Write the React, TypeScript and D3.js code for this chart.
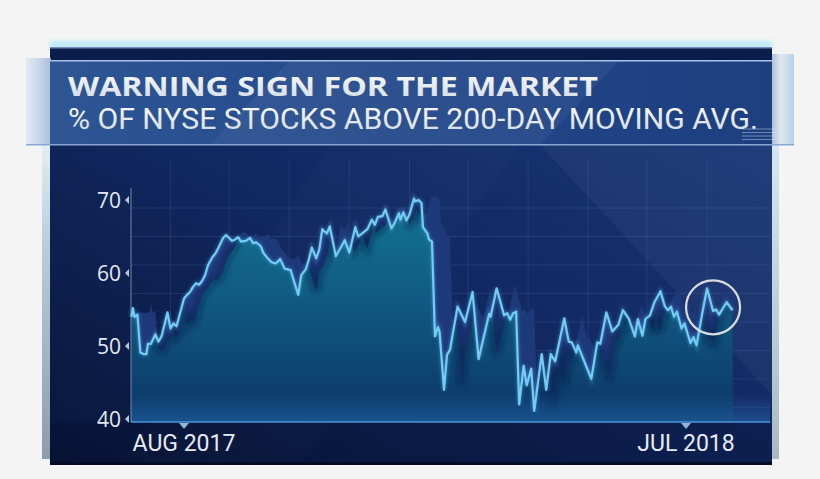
import React from "react";
import * as d3 from "d3";

const TITLE = "WARNING SIGN FOR THE MARKET";
const SUBTITLE = "% OF NYSE STOCKS ABOVE 200-DAY MOVING AVG.";

const dates = [
  "2017-06-27","2017-06-28","2017-06-29","2017-07-01","2017-07-03","2017-07-05","2017-07-07","2017-07-08",
  "2017-07-10","2017-07-13","2017-07-15","2017-07-17","2017-07-19","2017-07-21","2017-07-23","2017-07-25",
  "2017-07-27","2017-08-01","2017-08-03","2017-08-05","2017-08-07","2017-08-09","2017-08-11","2017-08-13",
  "2017-08-15","2017-08-17","2017-08-20","2017-08-22","2017-08-24","2017-08-27","2017-08-29","2017-09-02",
  "2017-09-04","2017-09-06","2017-09-08","2017-09-11","2017-09-14","2017-09-16","2017-09-18","2017-09-21",
  "2017-09-23","2017-09-25","2017-09-28","2017-10-01","2017-10-04","2017-10-07","2017-10-11","2017-10-13",
  "2017-10-16","2017-10-18","2017-10-21","2017-10-23","2017-10-25","2017-10-28","2017-10-30","2017-11-01",
  "2017-11-04","2017-11-06","2017-11-10","2017-11-13","2017-11-16","2017-11-19","2017-11-23","2017-11-25",
  "2017-11-28","2017-12-01","2017-12-04","2017-12-06","2017-12-08","2017-12-11","2017-12-13","2017-12-17",
  "2017-12-19","2017-12-22","2017-12-23","2017-12-25","2017-12-27","2017-12-29","2018-01-01","2018-01-02",
  "2018-01-04","2018-01-06","2018-01-07","2018-01-10","2018-01-11","2018-01-13","2018-01-15","2018-01-17",
  "2018-01-18","2018-01-21","2018-01-23","2018-01-25","2018-01-30","2018-02-04","2018-02-09","2018-02-13",
  "2018-02-20","2018-02-21","2018-02-25","2018-03-02","2018-03-04","2018-03-06","2018-03-08","2018-03-10",
  "2018-03-12","2018-03-15","2018-03-17","2018-03-20","2018-03-22","2018-03-27","2018-03-30","2018-04-02",
  "2018-04-05","2018-04-11","2018-04-14","2018-04-16","2018-04-19","2018-04-20","2018-04-29","2018-05-03",
  "2018-05-05","2018-05-09","2018-05-13","2018-05-17","2018-05-20","2018-05-24","2018-05-28","2018-05-30",
  "2018-06-02","2018-06-04","2018-06-07","2018-06-10","2018-06-14","2018-06-17","2018-06-19","2018-06-21",
  "2018-06-23","2018-06-25","2018-06-28","2018-06-30","2018-07-04","2018-07-06","2018-07-08","2018-07-12",
  "2018-07-15","2018-07-19","2018-07-21","2018-07-23","2018-07-28","2018-08-01",
];

const values = [
  54.0, 55.2, 54.0, 54.3, 49.1, 48.9, 48.9, 50.3,
  50.3, 51.6, 50.6, 51.3, 52.9, 54.6, 52.4, 53.1,
  52.7, 56.5, 57.0, 57.4, 58.1, 58.6, 58.4, 58.9,
  59.7, 61.1, 62.2, 62.7, 63.5, 64.8, 65.2, 64.4,
  64.6, 64.9, 64.3, 64.4, 64.8, 64.1, 64.2, 63.7,
  62.7, 62.2, 61.5, 61.3, 61.9, 60.6, 60.4, 59.0,
  57.0, 59.7, 60.5, 61.8, 63.5, 62.0, 63.2, 66.0,
  65.4, 66.4, 62.3, 63.4, 64.5, 62.8, 66.3, 65.0,
  65.5, 66.0, 67.3, 66.6, 67.7, 67.8, 68.7, 66.1,
  66.8, 68.2, 67.3, 68.3, 67.2, 68.0, 70.2, 69.8,
  70.0, 69.6, 66.3, 65.4, 64.6, 64.3, 51.3, 52.6,
  52.0, 44.0, 48.8, 49.5, 55.4, 53.3, 57.4, 48.2,
  54.4, 54.0, 57.9, 54.2, 54.5, 53.6, 54.5, 54.7,
  42.0, 47.3, 44.6, 46.9, 41.1, 48.9, 44.0, 48.9,
  47.9, 53.8, 50.6, 50.5, 49.1, 50.1, 45.5, 50.5,
  50.3, 54.6, 52.0, 52.9, 54.9, 53.7, 51.3, 53.7,
  51.4, 53.7, 54.2, 56.0, 57.5, 55.4, 54.9, 55.4,
  54.0, 54.7, 52.4, 53.1, 50.4, 51.2, 50.1, 54.7,
  57.9, 54.8, 55.0, 54.3, 56.0, 54.9,
];

const yTicks = [40, 50, 60, 70];
const xTickDates = ["2017-08-01", "2018-07-01"];
const xTickLabels = ["AUG 2017", "JUL 2018"];
const gridValues = [41.6, 45.5, 49.4, 53.3, 57.2, 61.1, 65.0, 68.9];
const gridDates = [
  "2017-07-23","2017-08-31","2017-10-10","2017-11-19","2017-12-29",
  "2018-02-06","2018-03-18","2018-04-27","2018-06-05","2018-07-15",
];
const highlightDate = "2018-07-19";
const highlightValue = 55.3;

const W = 820;
const H = 479;
const PANEL = { x: 50, y: 47, w: 722, h: 418 };
const PLOT = { left: 131, right: 772, top: 180, bottom: 422 };
const DX = 18;
const DY = -4;

export default function App() {
  const parse = d3.timeParse("%Y-%m-%d");
  const x = d3
    .scaleTime()
    .domain([parse(xTickDates[0])!, parse(xTickDates[1])!])
    .range([184, 686]);
  const y = d3.scaleLinear().domain([40, 70]).range([419, 200]);

  const pts: [number, number][] = dates.map((d, i) => [x(parse(d)!), y(values[i])]);
  const shifted: [number, number][] = [
    [pts[0][0], pts[0][1] + DY],
    ...pts.map(([px, py]) => [px + DX, py + DY] as [number, number]),
  ];
  const lastX = pts[pts.length - 1][0];

  const line = d3.line<[number, number]>().x((d) => d[0]).y((d) => d[1]);
  const area = d3
    .area<[number, number]>()
    .x((d) => d[0])
    .y0(PLOT.bottom)
    .y1((d) => d[1]);

  const lineD = line(pts) || "";
  const areaD = area(pts) || "";
  const areaShiftD = area(shifted) || "";
  const lineShiftD = line(shifted) || "";

  const hx = x(parse(highlightDate)!);
  const hy = y(highlightValue);

  const labelFont = "'Open Sans', 'DejaVu Sans', sans-serif";

  return (
    <svg
      width={W}
      height={H}
      viewBox={`0 0 ${W} ${H}`}
      style={{ position: "absolute", left: 0, top: 0, display: "block" }}
    >
      <defs>
        <linearGradient id="panelBg" x1="0" y1="1" x2="1" y2="0">
          <stop offset="0" stopColor="#081639" />
          <stop offset="0.45" stopColor="#11275f" />
          <stop offset="1" stopColor="#1b3a7c" />
        </linearGradient>
        <linearGradient id="banner" x1="0" y1="0" x2="1" y2="0">
          <stop offset="0" stopColor="#2e5694" />
          <stop offset="0.5" stopColor="#22478a" />
          <stop offset="1" stopColor="#1d3f80" />
        </linearGradient>
        <linearGradient id="glassL" x1="0" y1="0" x2="1" y2="0">
          <stop offset="0" stopColor="#dfe8f5" />
          <stop offset="0.5" stopColor="#c2d2ea" />
          <stop offset="1" stopColor="#9fb5d6" />
        </linearGradient>
        <linearGradient id="glassR" x1="0" y1="0" x2="1" y2="0">
          <stop offset="0" stopColor="#9fb8da" />
          <stop offset="0.4" stopColor="#dfe6ee" />
          <stop offset="1" stopColor="#a9cbea" />
        </linearGradient>
        <linearGradient id="sideL" x1="0" y1="0" x2="0" y2="1">
          <stop offset="0" stopColor="#e2eef4" />
          <stop offset="0.3" stopColor="#b9d0dc" />
          <stop offset="1" stopColor="#8d9ca7" />
        </linearGradient>
        <linearGradient id="sideR" x1="0" y1="0" x2="0" y2="1">
          <stop offset="0" stopColor="#d3e8f3" />
          <stop offset="1" stopColor="#a9bac4" />
        </linearGradient>
        <linearGradient id="titleFill" x1="0" y1="0" x2="0" y2="1">
          <stop offset="0" stopColor="#ffffff" />
          <stop offset="1" stopColor="#cfd8e3" />
        </linearGradient>
        <linearGradient id="teal" gradientUnits="userSpaceOnUse" x1="0" y1="200" x2="0" y2="422">
          <stop offset="0" stopColor="#137492" />
          <stop offset="0.5" stopColor="#10577f" />
          <stop offset="1" stopColor="#0c3566" />
        </linearGradient>
        <linearGradient id="baseGlow" x1="0" y1="0" x2="0" y2="1">
          <stop offset="0" stopColor="#2a78c0" stopOpacity="0" />
          <stop offset="1" stopColor="#2a78c0" stopOpacity="0.45" />
        </linearGradient>
        <filter id="blur3" x="-10%" y="-10%" width="120%" height="120%">
          <feGaussianBlur stdDeviation="3" />
        </filter>
        <filter id="blur2" x="-10%" y="-50%" width="120%" height="200%">
          <feGaussianBlur stdDeviation="2" />
        </filter>
        <filter id="blur1" x="-10%" y="-50%" width="120%" height="200%">
          <feGaussianBlur stdDeviation="1.5" />
        </filter>
        <clipPath id="clipUnder">
          <path d={areaD} />
        </clipPath>
        <clipPath id="clipSeries">
          <rect x={PLOT.left} y={0} width={lastX - PLOT.left} height={PLOT.bottom} />
        </clipPath>
        <clipPath id="clipPanel">
          <rect x={PANEL.x} y={PANEL.y} width={PANEL.w} height={PANEL.h} />
        </clipPath>
      </defs>

      <rect x={0} y={0} width={W} height={H} fill="#f4f4f4" />

      {/* glow & frame */}
      <rect x={PANEL.x} y={PANEL.y - 6} width={PANEL.w} height={8} fill="#bfe8f7" filter="url(#blur2)" />
      <rect x={42} y={145} width={9} height={314} fill="url(#sideL)" />
      <rect x={771} y={145} width={8} height={314} fill="url(#sideR)" />

      {/* panel */}
      <rect x={PANEL.x} y={PANEL.y} width={PANEL.w} height={PANEL.h} fill="url(#panelBg)" />
      <g clipPath="url(#clipPanel)">
        <polygon points="540,145 772,145 772,395" fill="#ffffff" opacity={0.04} />
        <polygon points="330,145 520,145 300,465 120,465" fill="#ffffff" opacity={0.015} />
        <rect x={PANEL.x} y={PLOT.bottom + 1} width={PANEL.w} height={PANEL.y + PANEL.h - PLOT.bottom - 1} fill="#050f2e" opacity={0.35} />
      </g>
      <rect x={PANEL.x} y={PANEL.y + PANEL.h - 3} width={PANEL.w} height={3} fill="#050c26" />

      {/* grid */}
      <g>
        {gridValues.map((v) => (
          <line key={"h" + v} x1={PLOT.left} x2={PLOT.right - 2} y1={y(v)} y2={y(v)} stroke="#5d7fc4" strokeOpacity={0.22} strokeWidth={1} />
        ))}
        {gridDates.map((d) => (
          <line key={"v" + d} x1={x(parse(d)!)} x2={x(parse(d)!)} y1={PLOT.top - 20} y2={PLOT.bottom} stroke="#5d7fc4" strokeOpacity={0.2} strokeWidth={1} />
        ))}
      </g>

      <g clipPath="url(#clipSeries)">
        {/* extruded band */}
        <path d={areaD} fill="#1d397a" />
        <path d={areaShiftD} fill="#1d397a" />
        {/* front face */}
        <g clipPath="url(#clipUnder)">
          <path d={areaShiftD} fill="url(#teal)" />
          <path d={lineShiftD} fill="none" stroke="#06183f" strokeOpacity={0.5} strokeWidth={6} filter="url(#blur3)" />
        </g>
      </g>

      {/* baseline glow */}
      <rect x={PLOT.left} y={PLOT.bottom - 28} width={PLOT.right - PLOT.left - 2} height={28} fill="url(#baseGlow)" />
      <line x1={PLOT.left} x2={PLOT.right - 2} y1={PLOT.bottom} y2={PLOT.bottom} stroke="#4b93d6" strokeWidth={1.5} />
      <line x1={PLOT.left} x2={PLOT.left} y1={PLOT.top + 8} y2={PLOT.bottom} stroke="#9fb2cf" strokeOpacity={0.7} strokeWidth={1} />

      {/* series line */}
      <path d={lineD} fill="none" stroke="#5cc4f5" strokeOpacity={0.35} strokeWidth={4} filter="url(#blur1)" />
      <path d={lineD} fill="none" stroke="#74ccf5" strokeWidth={2.2} strokeLinejoin="round" />

      {/* highlight circle */}
      <circle cx={hx} cy={hy} r={27} fill="none" stroke="#d9dcdf" strokeWidth={2.2} />

      {/* y axis */}
      {yTicks.map((t) => (
        <g key={"yt" + t}>
          <path d={`M${PLOT.left - 2},${y(t) - 4} L${PLOT.left - 6},${y(t)} L${PLOT.left - 2},${y(t) + 4} Z`} fill="#b9c6d8" />
          <text x={121} y={y(t)} dy="0.36em" textAnchor="end" fontFamily={labelFont} fontSize={21} fill="#e4e9f0">
            {t}
          </text>
        </g>
      ))}

      {/* x axis */}
      {xTickDates.map((d, i) => {
        const tx = x(parse(d)!);
        return (
          <g key={"xt" + d}>
            <path d={`M${tx - 5},${PLOT.bottom + 1} L${tx + 5},${PLOT.bottom + 1} L${tx},${PLOT.bottom + 7} Z`} fill="#8fb4d8" />
            <text x={tx} y={451} textAnchor="middle" fontFamily="Roboto, 'Open Sans', sans-serif" fontSize={23} fill="#e6ebf2">
              {xTickLabels[i]}
            </text>
          </g>
        );
      })}

      {/* banner */}
      <rect x={PANEL.x} y={PANEL.y} width={PANEL.w} height={14} fill="#0b1d4d" />
      <rect x={PANEL.x} y={PANEL.y} width={PANEL.w} height={1.5} fill="#6f8fc0" />
      <rect x={26} y={58} width={25} height={87} fill="url(#glassL)" opacity={0.85} />
      <rect x={772} y={54} width={22} height={91} fill="url(#glassR)" opacity={0.85} />
      <rect x={PANEL.x} y={60} width={PANEL.w} height={85} fill="url(#banner)" />
      <polygon points="290,60 620,60 540,145 210,145" fill="#ffffff" opacity={0.05} />
      <rect x={PANEL.x} y={60} width={PANEL.w} height={1.5} fill="#a9c3e3" />
      <rect x={26} y={144} width={768} height={1.5} fill="#87a7d2" />
      <g opacity={0.45} stroke="#d8e2ee" strokeWidth={1.2}>
        {[0, 1, 2, 3].map((k) => (
          <line key={"ic" + k} x1={742} x2={783} y1={129 + k * 3.5} y2={129 + k * 3.5} />
        ))}
      </g>

      <text
        x={68}
        y={96}
        fontFamily="'Open Sans', 'DejaVu Sans', sans-serif"
        fontWeight={700}
        fontSize={27.5}
        fill="url(#titleFill)"
        textLength={530}
        lengthAdjust="spacingAndGlyphs"
      >
        {TITLE}
      </text>
      <text
        x={68}
        y={128.5}
        fontFamily="Roboto, 'Open Sans', sans-serif"
        fontSize={29.5}
        fill="url(#titleFill)"
        textLength={690}
        lengthAdjust="spacingAndGlyphs"
      >
        {SUBTITLE}
      </text>
    </svg>
  );
}
